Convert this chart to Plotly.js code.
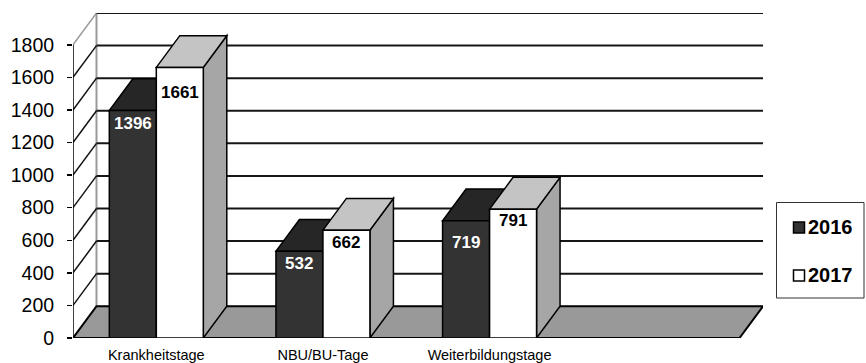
<!DOCTYPE html>
<html>
<head>
<meta charset="utf-8">
<script src="https://cdn.plot.ly/plotly-3.0.1.min.js"></script>
<style>
  html, body { margin: 0; padding: 0; background: #fff; }
  #chart { width: 866px; height: 363px; }
</style>
</head>
<body>
<div id="chart"></div>
<script>
// ---- data ----
const categories = ['Krankheitstage', 'NBU/BU-Tage', 'Weiterbildungstage'];
const seriesNames = ['2016', '2017'];
const values2016 = [1396, 532, 719];
const values2017 = [1661, 662, 791];
const yTickValues = [0, 200, 400, 600, 800, 1000, 1200, 1400, 1600, 1800];

// ---- styles / geometry (not data) ----
const FONT = 'Liberation Sans, Arial, sans-serif';
const NSLOT = 4;        // category slots on the floor (last one empty)
const DX = 0.141;       // depth offset in x units
const DY = 195;         // depth offset in y units
const BARW = 0.282;     // bar width in x units
const YMAX = 1800;
const colFront = ['#333333', '#ffffff'];
const colTop = ['#262626', '#c4c4c4'];
const colSide = '#a6a6a6';
const colFloor = '#999999';
const labelColor = ['#ffffff', '#000000'];
const labelDrop = [[13, 12, 22], [25, 12, 11]]; // px below bar top
const M = {l: 73, r: 103, t: 13, b: 25};
const W = 866, H = 363;
const PW = W - M.l - M.r, PH = H - M.t - M.b;
const px2x = p => (p - M.l) / PW;
const px2y = p => (H - M.b - p) / PH;

const allSeries = [values2016, values2017];
const shapes = [];
const annotations = [];
const line = (x0, y0, x1, y1, color, width) => shapes.push({
  type: 'line', xref: 'x', yref: 'y', x0, y0, x1, y1, layer: 'below',
  line: {color, width}
});
const poly = (pts, fill, width) => shapes.push({
  type: 'path', xref: 'x', yref: 'y', layer: 'below',
  path: 'M' + pts.map(p => p[0] + ',' + p[1]).join(' L') + ' Z',
  fillcolor: fill, line: {color: '#000', width: width || 1.5}
});

// left wall: back vertical + diagonals
line(DX, DY, DX, YMAX + DY, '#9a9a9a', 2);
yTickValues.forEach(v => {
  if (v === 0) return;
  line(0, v, DX, v + DY, v === YMAX ? '#9a9a9a' : '#111', 1.5);
});
// back wall gridlines
yTickValues.forEach(v => {
  if (v === 0) return;
  line(DX, v + DY, NSLOT + DX, v + DY, '#161616', 2);
});
// floor
poly([[0, 0], [NSLOT, 0], [NSLOT + DX, DY], [DX, DY]], colFloor, 2);
// front value axis
line(0, 0, 0, YMAX, '#000', 1.5);

// side & top faces of bars
categories.forEach((c, i) => {
  allSeries.forEach((vals, s) => {
    const x0 = i + 0.5 - BARW + s * BARW;
    const x1 = x0 + BARW;
    const h = vals[i];
    poly([[x1, 0], [x1 + DX, DY], [x1 + DX, h + DY], [x1, h]], colSide);
    poly([[x0, h], [x1, h], [x1 + DX, h + DY], [x0 + DX, h + DY]], colTop[s]);
    annotations.push({
      xref: 'x', yref: 'y', x: x0 + BARW / 2, y: h, yshift: -labelDrop[s][i],
      text: '<b>' + h + '</b>', showarrow: false, yanchor: 'middle',
      font: {family: FONT, size: 17, color: labelColor[s]}
    });
  });
});

// custom legend
shapes.push({type: 'rect', xref: 'paper', yref: 'paper', layer: 'above',
  x0: px2x(776.5), x1: px2x(864), y0: px2y(298), y1: px2y(202.5),
  line: {color: '#333', width: 1}, fillcolor: 'rgba(0,0,0,0)'});
const legY = [227.5, 275.5];
seriesNames.forEach((name, s) => {
  shapes.push({type: 'rect', xref: 'paper', yref: 'paper', layer: 'above',
    x0: px2x(793.5), x1: px2x(804.5), y0: px2y(legY[s] + 5.5), y1: px2y(legY[s] - 5.5),
    fillcolor: colFront[s], line: {color: '#000', width: 1.5}});
  annotations.push({xref: 'paper', yref: 'paper', x: px2x(806), y: px2y(legY[s] - 1),
    xanchor: 'left', yanchor: 'middle', showarrow: false,
    text: '<b>' + name + '</b>', font: {family: FONT, size: 20, color: '#000'}});
});

const traces = allSeries.map((vals, s) => ({
  type: 'bar',
  name: seriesNames[s],
  x: categories.map((c, i) => i + 0.5),
  y: vals,
  width: BARW,
  offset: s === 0 ? -BARW : 0,
  marker: {color: colFront[s], line: {color: '#000', width: 1.5}},
  hovertext: categories,
  showlegend: false
}));

const layout = {
  width: W, height: H,
  margin: M,
  paper_bgcolor: '#fff', plot_bgcolor: '#fff',
  barmode: 'overlay',
  showlegend: false,
  font: {family: FONT, color: '#000'},
  xaxis: {
    range: [0, NSLOT + DX], showgrid: false, zeroline: false, showline: false,
    tickvals: categories.map((c, i) => i + 0.5), ticktext: categories,
    ticks: '', tickfont: {family: FONT, size: 14.5, color: '#000'},
    ticklabelstandoff: 6, fixedrange: true
  },
  yaxis: {
    range: [0, YMAX + DY], showgrid: false, zeroline: false, showline: false,
    tickvals: yTickValues, ticks: 'outside', ticklen: 5, tickwidth: 1.5, tickcolor: '#000',
    tickfont: {family: FONT, size: 19.5, color: '#000'}, ticklabelstandoff: 9, fixedrange: true
  },
  shapes, annotations
};

Plotly.newPlot('chart', traces, layout, {displayModeBar: false, staticPlot: true});
</script>
</body>
</html>
